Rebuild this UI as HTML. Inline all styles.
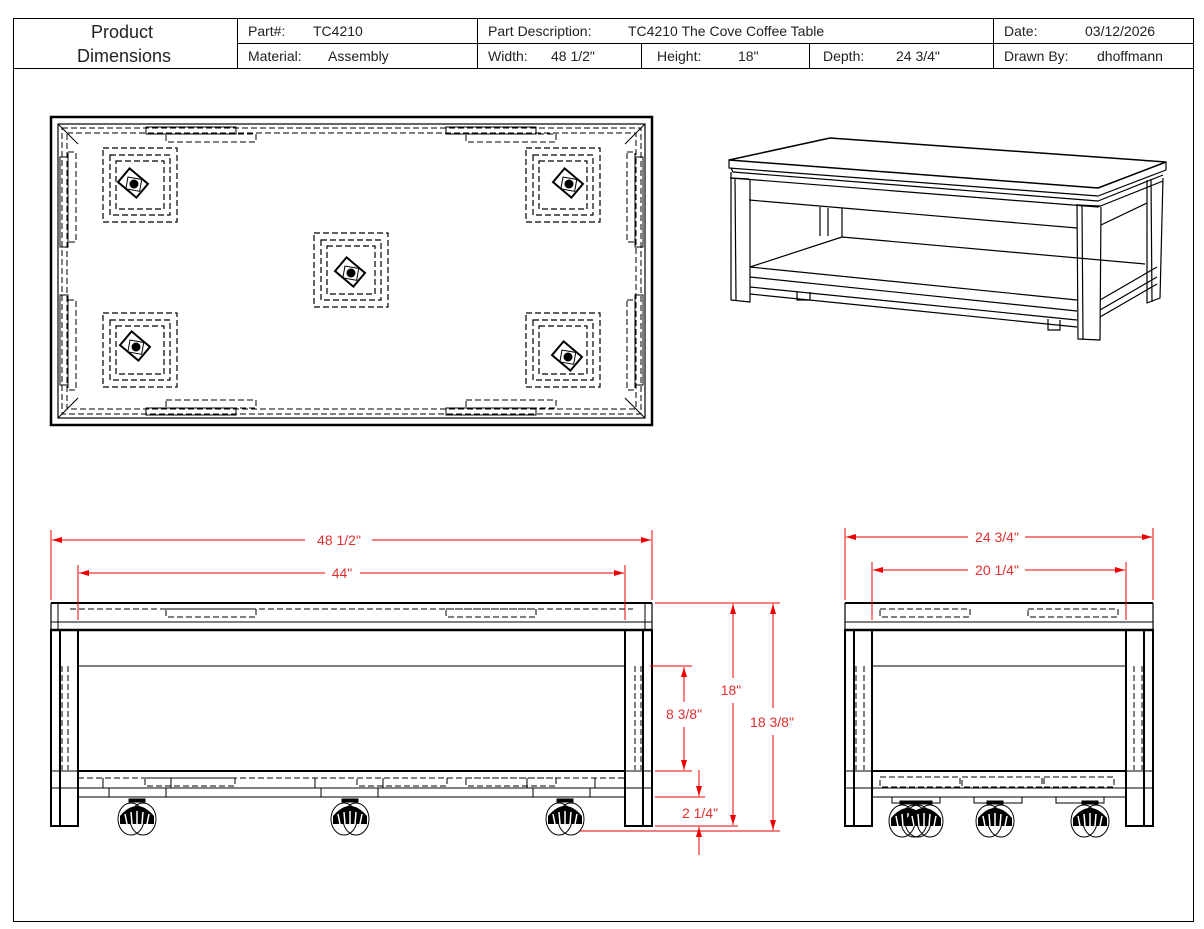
<!DOCTYPE html>
<html><head><meta charset="utf-8"><style>
html,body{margin:0;padding:0;background:#fff;}
svg{display:block;}
text{font-family:"Liberation Sans",sans-serif;}
</style></head><body>
<svg width="1204" height="929" viewBox="0 0 1204 929" xmlns="http://www.w3.org/2000/svg">
<defs>
<g id="sq" fill="none" stroke="#000" stroke-width="1.2" stroke-dasharray="6,3">
  <rect x="-37" y="-37" width="74" height="74"/>
  <rect x="-30" y="-30" width="60" height="60"/>
  <rect x="-24" y="-24" width="48" height="48"/>
</g>
<g id="plate" fill="none" stroke="#000">
  <rect x="-12" y="-9" width="24" height="18" stroke-width="2" transform="rotate(40)"/>
  <rect x="-6" y="-5" width="14" height="12" stroke-width="1" transform="rotate(10)"/>
  <circle cx="1" cy="1" r="4" fill="#000"/>
</g>
<g id="cast" fill="none" stroke="#000" stroke-width="1">
  <rect x="-8" y="-3" width="16" height="3" fill="#000"/>
  <ellipse cx="-6" cy="17" rx="13" ry="16"/>
  <ellipse cx="6" cy="17" rx="13" ry="16"/>
  <path d="M-17,14 Q0,-6 17,14 L17,22 L-17,22 Z" fill="#000" stroke="none"/>
  <path d="M-12,12 L-10,22 M-6,10 L-5,22 M0,9 L0,22 M6,10 L5,22 M12,12 L10,22" stroke="#fff" stroke-width="1.5"/>
</g>
<marker id="ar" viewBox="0 0 10 6" refX="10" refY="3" markerWidth="12" markerHeight="6" orient="auto-start-reverse" markerUnits="userSpaceOnUse"><path d="M0,0 L10,3 L0,6 Z" fill="#e00"/></marker>
</defs>

<!-- header -->
<g fill="none" stroke="#000" stroke-width="1">
<rect x="13.5" y="18.5" width="1180" height="903"/>
<line x1="13" y1="68.5" x2="1193" y2="68.5"/>
<line x1="237" y1="43.5" x2="1193" y2="43.5"/>
<line x1="237.5" y1="18" x2="237.5" y2="68"/>
<line x1="477.5" y1="18" x2="477.5" y2="68"/>
<line x1="993.5" y1="18" x2="993.5" y2="68"/>
<line x1="641.5" y1="43" x2="641.5" y2="68"/>
<line x1="809.5" y1="43" x2="809.5" y2="68"/>
</g>
<g fill="#222" font-size="14">
<text x="122" y="38" text-anchor="middle" font-size="18">Product</text>
<text x="124" y="62" text-anchor="middle" font-size="18">Dimensions</text>
<text x="248" y="36">Part#:</text><text x="313" y="36">TC4210</text>
<text x="248" y="61">Material:</text><text x="328" y="61">Assembly</text>
<text x="488" y="36">Part Description:</text><text x="628" y="36">TC4210 The Cove Coffee Table</text>
<text x="488" y="61">Width:</text><text x="551" y="61">48 1/2"</text>
<text x="657" y="61">Height:</text><text x="738" y="61">18"</text>
<text x="823" y="61">Depth:</text><text x="896" y="61">24 3/4"</text>
<text x="1004" y="36">Date:</text><text x="1085" y="36">03/12/2026</text>
<text x="1004" y="61">Drawn By:</text><text x="1097" y="61">dhoffmann</text>
</g>

<!-- top view -->
<g fill="none" stroke="#000">
<rect x="51" y="117" width="601" height="308" stroke-width="2.5"/>
<rect x="58" y="124" width="587" height="294" stroke-width="1.2"/>
<rect x="62" y="128" width="579" height="286" stroke-width="1" stroke-dasharray="6,3"/>
<rect x="67" y="133" width="569" height="276" stroke-width="1" stroke-dasharray="6,3"/>
<path d="M58,124 L78,144 M645,124 L625,144 M58,418 L78,398 M645,418 L625,398" stroke-width="1"/>
<g stroke-width="1">
<rect x="146" y="127" width="90" height="7"/><rect x="166" y="134" width="90" height="8" stroke-dasharray="6,3"/>
<rect x="446" y="127" width="90" height="7"/><rect x="466" y="134" width="90" height="8" stroke-dasharray="6,3"/>
<rect x="146" y="408" width="90" height="7"/><rect x="166" y="400" width="90" height="8" stroke-dasharray="6,3"/>
<rect x="446" y="408" width="90" height="7"/><rect x="466" y="400" width="90" height="8" stroke-dasharray="6,3"/>
<rect x="60" y="157" width="8" height="90"/><rect x="68" y="152" width="8" height="90" stroke-dasharray="6,3"/>
<rect x="60" y="295" width="8" height="90"/><rect x="68" y="300" width="8" height="90" stroke-dasharray="6,3"/>
<rect x="635" y="157" width="8" height="90"/><rect x="627" y="152" width="8" height="90" stroke-dasharray="6,3"/>
<rect x="635" y="295" width="8" height="90"/><rect x="627" y="300" width="8" height="90" stroke-dasharray="6,3"/>
</g>
</g>
<use href="#sq" x="140" y="185"/><use href="#plate" x="133" y="183"/>
<use href="#sq" x="563" y="185"/><use href="#plate" x="568" y="183"/>
<use href="#sq" x="351" y="270"/><use href="#plate" x="350" y="272"/>
<use href="#sq" x="140" y="350"/><use href="#plate" x="135" y="346"/>
<use href="#sq" x="563" y="350"/><use href="#plate" x="567" y="356"/>

<!-- perspective -->
<g fill="none" stroke="#000" stroke-width="1.2" stroke-linejoin="round">
<path d="M729,160 L830,138 L1166,162 L1098,188 Z" stroke-width="1.5"/>
<path d="M729,160 L729,168 L1098,196 L1166,170 L1166,162"/>
<path d="M731,168 L733,172 L1098,201 L1163,175"/>
<path d="M731,172 L731,178 L1098,207 L1163,181"/>
<path d="M730,178 L749,179 M1077,205 L1100,206"/>
<path d="M731,178 L731,300 L750,302 L750,179"/>
<path d="M735,178 L736,300"/>
<path d="M1077,204 L1078,339 L1100,340 L1101,207"/>
<path d="M1082,205 L1083,339"/>
<path d="M1147,180 L1147,303 L1160,298 L1163,178"/>
<path d="M1151,179 L1152,302"/>
<path d="M749,200 L1077,228"/>
<path d="M1101,225 L1147,203"/>
<path d="M820,207 L820,236 M828,208 L828,236 M842,208 L842,237"/>
<path d="M750,267 L842,237 L1145,264"/>
<path d="M750,267 L1077,300 M750,277 L1077,311 M750,287 L1077,320 M750,294 L1077,327"/>
<path d="M1100,300 L1157,267 M1100,310 L1157,277 M1100,317 L1157,284"/>
<path d="M797,291 L797,300 L810,300 L810,292"/>
<path d="M1048,319 L1048,330 L1060,330 L1060,320"/>
</g>

<!-- front view -->
<g fill="none" stroke="#000">
<line x1="51" y1="603" x2="652" y2="603" stroke-width="2"/>
<line x1="51" y1="630" x2="652" y2="630" stroke-width="2.5"/>
<line x1="51" y1="622" x2="652" y2="622" stroke-width="1"/>
<line x1="51" y1="603" x2="51" y2="630" stroke-width="1.2"/>
<line x1="652" y1="603" x2="652" y2="630" stroke-width="1.2"/>
<line x1="58" y1="603" x2="58" y2="630" stroke-width="1"/><line x1="645" y1="603" x2="645" y2="630" stroke-width="1"/>
<line x1="70" y1="609" x2="633" y2="609" stroke-width="1" stroke-dasharray="6,3"/>
<rect x="166" y="609" width="90" height="8" stroke-dasharray="6,3" stroke-width="1"/>
<rect x="446" y="609" width="90" height="8" stroke-dasharray="6,3" stroke-width="1"/>
<rect x="51" y="630" width="27" height="196" stroke-width="2"/>
<line x1="60" y1="630" x2="60" y2="826" stroke-width="2"/>
<rect x="625" y="630" width="27" height="196" stroke-width="2"/>
<line x1="643" y1="630" x2="643" y2="826" stroke-width="2"/>
<path d="M62,666 L62,770 M68,666 L68,770 M635,666 L635,770 M641,666 L641,770" stroke-width="1" stroke-dasharray="6,3"/>
<line x1="78" y1="666" x2="625" y2="666" stroke-width="1"/>
<line x1="78" y1="771" x2="625" y2="771" stroke-width="2"/>
<line x1="51" y1="771" x2="78" y2="771" stroke-width="1"/><line x1="625" y1="771" x2="652" y2="771" stroke-width="1"/>
<line x1="78" y1="778" x2="625" y2="778" stroke-width="1" stroke-dasharray="6,3"/>
<line x1="51" y1="788" x2="652" y2="788" stroke-width="1"/>
<line x1="78" y1="797" x2="625" y2="797" stroke-width="1"/>
<g stroke-width="1">
<path d="M103,778 L103,788 L109,788 L109,797 M171,778 L171,788 L166,788 L166,797"/><rect x="145" y="778" width="90" height="8" stroke-dasharray="6,3"/>
<path d="M315,778 L315,788 L321,788 L321,797 M383,778 L383,788 L378,788 L378,797"/><rect x="357" y="778" width="90" height="8" stroke-dasharray="6,3"/>
<path d="M527,778 L527,788 L533,788 L533,797 M595,778 L595,788 L590,788 L590,797"/><rect x="466" y="778" width="90" height="8" stroke-dasharray="6,3"/>
</g>
</g>
<use href="#cast" x="137" y="802"/><use href="#cast" x="350" y="802"/><use href="#cast" x="565" y="802"/>

<!-- side view -->
<g fill="none" stroke="#000">
<line x1="845" y1="603" x2="1153" y2="603" stroke-width="2"/>
<line x1="845" y1="630" x2="1153" y2="630" stroke-width="2.5"/>
<line x1="845" y1="622" x2="1153" y2="622" stroke-width="1"/>
<line x1="845" y1="603" x2="845" y2="630" stroke-width="1.2"/><line x1="1153" y1="603" x2="1153" y2="630" stroke-width="1.2"/>
<rect x="880" y="609" width="90" height="8" stroke-dasharray="6,3" stroke-width="1"/>
<rect x="1028" y="609" width="90" height="8" stroke-dasharray="6,3" stroke-width="1"/>
<rect x="845" y="630" width="27" height="196" stroke-width="2"/>
<line x1="854" y1="630" x2="854" y2="826" stroke-width="2"/>
<rect x="1126" y="630" width="27" height="196" stroke-width="2"/>
<line x1="1144" y1="630" x2="1144" y2="826" stroke-width="2"/>
<path d="M856,666 L856,770 M864,666 L864,770 M1134,666 L1134,770 M1142,666 L1142,770" stroke-width="1" stroke-dasharray="6,3"/>
<line x1="872" y1="666" x2="1126" y2="666" stroke-width="1"/>
<line x1="872" y1="771" x2="1126" y2="771" stroke-width="2"/>
<line x1="845" y1="771" x2="1153" y2="771" stroke-width="1"/>
<line x1="845" y1="788" x2="1153" y2="788" stroke-width="1"/>
<line x1="872" y1="797" x2="1126" y2="797" stroke-width="1"/>
<rect x="880" y="777" width="80" height="10" stroke-width="1" stroke-dasharray="6,3"/>
<rect x="962" y="777" width="80" height="10" stroke-width="1" stroke-dasharray="6,3"/>
<rect x="1044" y="777" width="70" height="10" stroke-width="1" stroke-dasharray="6,3"/>
<rect x="892" y="797" width="48" height="6" stroke-width="1"/>
<rect x="974" y="797" width="48" height="6" stroke-width="1"/>
<rect x="1056" y="797" width="48" height="6" stroke-width="1"/>
</g>
<use href="#cast" x="908" y="804"/><use href="#cast" x="924" y="804"/><use href="#cast" x="995" y="804"/><use href="#cast" x="1090" y="804"/>

<!-- dimensions -->
<g stroke="#e00" stroke-width="1" fill="none">
<line x1="51" y1="530" x2="51" y2="600"/><line x1="652" y1="530" x2="652" y2="600"/>
<line x1="78" y1="565" x2="78" y2="620"/><line x1="625" y1="565" x2="625" y2="620"/>
<line x1="52" y1="540" x2="305" y2="540" marker-start="url(#ar)"/><line x1="372" y1="540" x2="651" y2="540" marker-end="url(#ar)"/>
<line x1="79" y1="573" x2="325" y2="573" marker-start="url(#ar)"/><line x1="360" y1="573" x2="624" y2="573" marker-end="url(#ar)"/>
<line x1="845" y1="528" x2="845" y2="600"/><line x1="1153" y1="528" x2="1153" y2="600"/>
<line x1="872" y1="562" x2="872" y2="620"/><line x1="1126" y1="562" x2="1126" y2="620"/>
<line x1="846" y1="537" x2="968" y2="537" marker-start="url(#ar)"/><line x1="1025" y1="537" x2="1152" y2="537" marker-end="url(#ar)"/>
<line x1="873" y1="570" x2="968" y2="570" marker-start="url(#ar)"/><line x1="1025" y1="570" x2="1125" y2="570" marker-end="url(#ar)"/>
<line x1="655" y1="603" x2="780" y2="603"/>
<line x1="650" y1="666" x2="692" y2="666"/>
<line x1="655" y1="771" x2="692" y2="771"/>
<line x1="655" y1="797" x2="705" y2="797"/>
<line x1="655" y1="826" x2="738" y2="826"/>
<line x1="580" y1="831" x2="780" y2="831"/>
<line x1="684" y1="667" x2="684" y2="702" marker-start="url(#ar)"/><line x1="684" y1="727" x2="684" y2="770" marker-end="url(#ar)"/>
<line x1="733" y1="604" x2="733" y2="678" marker-start="url(#ar)"/><line x1="733" y1="703" x2="733" y2="825" marker-end="url(#ar)"/>
<line x1="773" y1="604" x2="773" y2="708" marker-start="url(#ar)"/><line x1="773" y1="735" x2="773" y2="830" marker-end="url(#ar)"/>
<line x1="699" y1="770" x2="699" y2="796" marker-end="url(#ar)"/>
<line x1="699" y1="855" x2="699" y2="827" marker-end="url(#ar)"/>
</g>
<g fill="#e03030" font-size="14" text-anchor="middle">
<text x="339" y="545">48 1/2"</text>
<text x="342" y="578">44"</text>
<text x="997" y="542">24 3/4"</text>
<text x="997" y="575">20 1/4"</text>
<text x="684" y="719">8 3/8"</text>
<text x="731" y="695">18"</text>
<text x="772" y="727">18 3/8"</text>
<text x="700" y="818">2 1/4"</text>
</g>
</svg>
</body></html>
